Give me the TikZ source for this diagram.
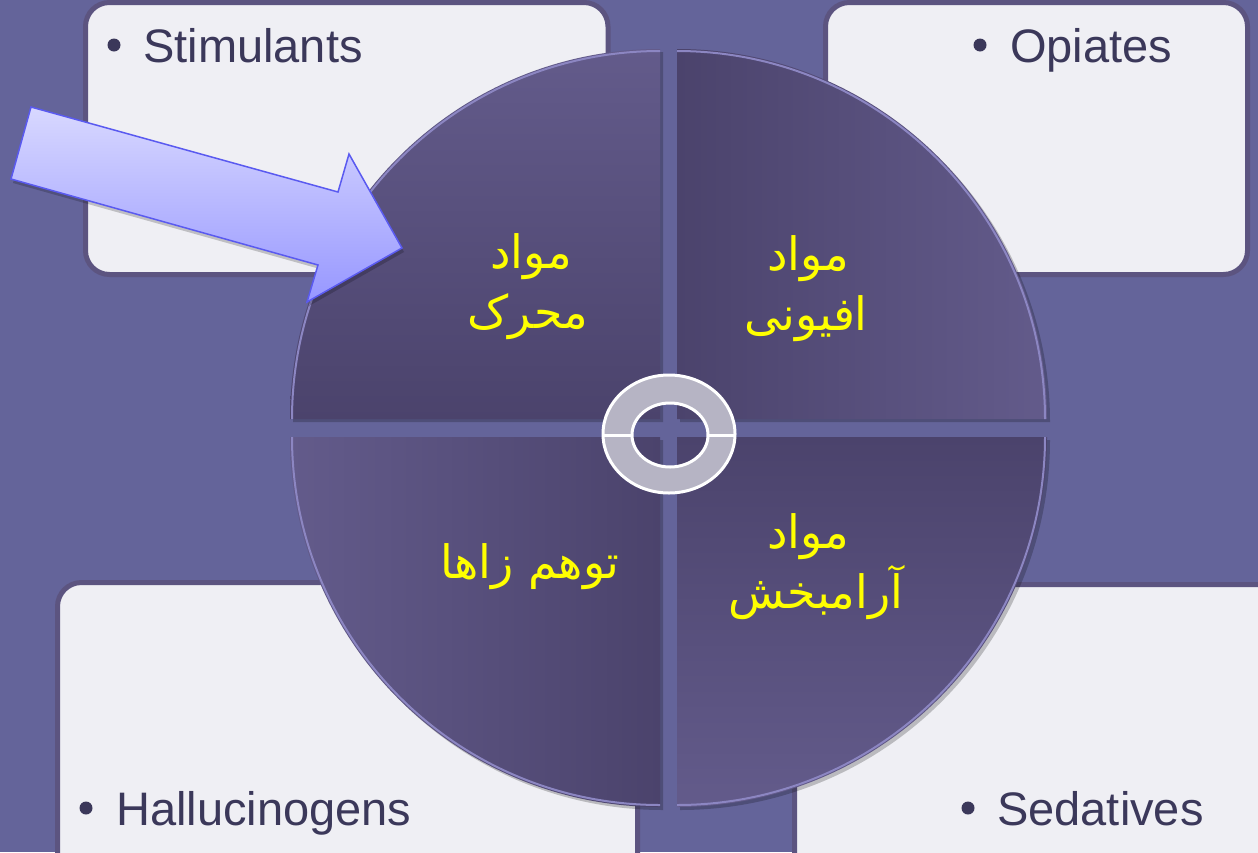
\documentclass[tikz,border=0pt]{standalone}
\usepackage{fontspec}
\setmainfont{Liberation Sans}
\newfontfamily\arabicfont[Script=Arabic]{DejaVu Sans}
\TeXXeTstate=1
\definecolor{bg}{HTML}{64649A}
\definecolor{boxfill}{HTML}{EFEFF4}
\definecolor{boxline}{HTML}{5C5480}
\definecolor{txt}{HTML}{3B385A}
\definecolor{qlight}{HTML}{635B8B}
\definecolor{qdark}{HTML}{4B436C}
\definecolor{rim}{HTML}{8C86C2}
\definecolor{ringgray}{HTML}{B6B4C4}
\definecolor{arrlight}{HTML}{D8D8FF}
\definecolor{arrdark}{HTML}{9797FF}
\definecolor{arrline}{HTML}{5A5AF0}
\definecolor{ylw}{HTML}{FFFF00}
\tikzset{
  pbox/.style={fill=boxfill, draw=boxline, line width=5pt, rounded corners=24pt},
  lbl/.style={anchor=base west, inner sep=0pt, text=txt, font=\fontsize{47}{56}\selectfont},
  bul/.style={circle, fill=txt, inner sep=0pt, minimum size=13pt},
  fa/.style={anchor=base, inner sep=0pt, text=ylw, font=\arabicfont\fontsize{46}{54}\selectfont},
  rimline/.style={draw=rim, line width=2pt},
  qshadow/.style={fill=black, opacity=0.22},
  ringline/.style={draw=white, line width=3pt}
}
\begin{document}
\begin{tikzpicture}[x=1pt,y=-1pt]
\useasboundingbox (0,0) rectangle (1258,852);
\fill[bg] (0,0) rectangle (1258,852);
\begin{scope}
\clip (0,0) rectangle (1258,852);
% boxes
\draw[pbox] (85.5,2.5) rectangle (608,274.5);
\draw[pbox] (825.5,2.5) rectangle (1247.5,274.5);
\draw[pbox] (57.5,582.5) rectangle (637.5,880);
\draw[pbox] (794.5,584.5) rectangle (1290,880);
% box texts
\node[bul] (b1) at (114,45) {};
\node[lbl] (stim) at (143,62) {Stimulants};
\node[bul] (b2) at (980,45) {};
\node[lbl] (opi) at (1010,62) {Opiates};
\node[bul] (b3) at (86,808) {};
\node[lbl] (hall) at (116,825) {Hallucinogens};
\node[bul] (b4) at (968,808) {};
\node[lbl] (sed) at (997,825) {Sedatives};
% quadrant shadows
\fill[qshadow] (663,422) -- (293,422) arc[start angle=180, end angle=270, radius=370] -- cycle;
\fill[qshadow] (680,422) -- (680,52) arc[start angle=270, end angle=360, radius=370] -- cycle;
\fill[qshadow] (680,440) -- (1050,440) arc[start angle=0, end angle=90, radius=370] -- cycle;
\fill[qshadow] (663,440) -- (663,810) arc[start angle=90, end angle=180, radius=370] -- cycle;
% quadrants
\shade[top color=qlight, bottom color=qdark] (660,419) -- (290,419) arc[start angle=180, end angle=270, radius=370] -- cycle;
\shade[left color=qdark, right color=qlight] (677,419) -- (677,49) arc[start angle=270, end angle=360, radius=370] -- cycle;
\shade[top color=qdark, bottom color=qlight] (677,437) -- (1047,437) arc[start angle=0, end angle=90, radius=370] -- cycle;
\shade[left color=qlight, right color=qdark] (660,437) -- (660,807) arc[start angle=90, end angle=180, radius=370] -- cycle;
% rim highlights
\draw[rimline] (292,419) arc[start angle=180, end angle=270, radius=368];
\draw[rimline] (677,51) arc[start angle=270, end angle=360, radius=368];
\draw[rimline] (1045,437) arc[start angle=0, end angle=90, radius=368];
\draw[rimline] (660,805) arc[start angle=90, end angle=180, radius=368];
% arrow
\fill[black, opacity=0.2] (33,111) -- (340,196) -- (351,158) -- (404,252) -- (309,306) -- (320,269) -- (13,183) -- cycle;
\shade[top color=arrlight, bottom color=arrdark, draw=arrline, line width=1.5pt, line join=miter]
  (31,107) -- (338,192) -- (349,154) -- (402,248) -- (307,302) -- (318,265) -- (11,179) -- cycle;
% centre ring
\fill[ringgray, even odd rule] (669,434) ellipse [x radius=66, y radius=59] (670,435) ellipse [x radius=38, y radius=32];
\draw[ringline] (669,434) ellipse [x radius=66, y radius=59];
\draw[ringline] (670,435) ellipse [x radius=38, y radius=32];
\draw[ringline] (603,435) -- (632,435);
\draw[ringline] (708,435) -- (735,435);
% persian labels
\node[fa] (tl1) at (531,268) {\beginR مواد\endR};
\node[fa] (tl2) at (528,328) {\beginR محرک\endR};
\node[fa] (tr1) at (808,270) {\beginR مواد\endR};
\node[fa] (tr2) at (806,330) {\beginR افیونی\endR};
\node[fa] (bl1) at (530,578) {\beginR توهم زاها\endR};
\node[fa] (br1) at (808,548) {\beginR مواد\endR};
\node[fa] (br2) at (816,608) {\beginR آرامبخش\endR};
\end{scope}
\end{tikzpicture}
\end{document}
